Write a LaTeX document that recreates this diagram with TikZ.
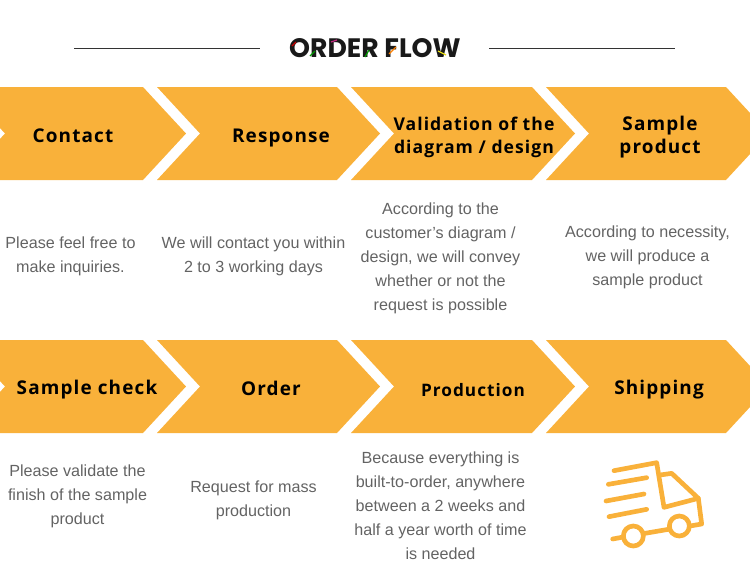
\documentclass[tikz,border=0pt]{standalone}
\usepackage{fontspec}
\setmainfont{Liberation Sans}
\newfontfamily\headfont[LetterSpace=6]{Open Sans}
\newfontfamily\titlefont{Poppins}
\usepackage{xcolor}
\usetikzlibrary{positioning}
\definecolor{flowgold}{HTML}{F9B13A}
\definecolor{bodygrey}{HTML}{636363}
\tikzset{
    flowtitle/.style={font=\headfont\bfseries\fontsize{14.2}{17.3}\selectfont, text=black, align=center},
    flowbody/.style={font=\fontsize{12.1}{18}\selectfont, text=bodygrey, align=center},
    truckline/.style={draw=flowgold, line width=3.5pt, line cap=round, line join=round}
}
\begin{document}
\begin{tikzpicture}[x=0.75pt,y=-0.75pt]
\useasboundingbox (0,0) rectangle (750,586);
\clip (0,0) rectangle (750,586);
% heading
\node[font=\titlefont\bfseries\fontsize{20}{22}\selectfont, text=black!90] (title) at (375,48) {ORDER FLOW};
\draw[black!80, line width=0.5pt] (74,48) -- (260,48);
\draw[black!80, line width=0.5pt] (489,48) -- (675,48);
% colour strokes on the heading
\draw[red!80!black, line width=0.9pt] (292,46) -- (296,42);
\draw[green!60!black, line width=0.9pt] (310,56) -- (315,51);
\draw[magenta!80!black, line width=0.9pt] (331,42) -- (337,40);
\draw[green!60!black, line width=0.9pt] (365,57) -- (369,50);
\draw[orange, line width=0.9pt] (389,54) -- (396,47);
\draw[yellow!90!black, line width=0.9pt] (438,51) -- (446,55);
% arrow bands
\foreach \y in {87,340} {
    \foreach \xa/\xb in {-38/143, 157/337, 351/532, 546/726} {
        \fill[flowgold] (\xa,\y) -- (\xb,\y) -- (\xb+43,\y+46.5) -- (\xb,\y+93)
            -- (\xa,\y+93) -- (\xa+43,\y+46.5) -- cycle;
    }
}
% first row
\node[flowtitle] (contact) at (73,136) {Contact};
\node[flowtitle] (response) at (281,138) {Response};
\node[flowtitle, font=\headfont\bfseries\fontsize{13.2}{17.3}\selectfont] (validation) at (474,137) {Validation of the\\diagram / design};
\node[flowtitle] (sample) at (660,137) {Sample\\product};
\node[flowbody] (inquiry) at (70.5,256) {Please feel free to\\make inquiries.};
\node[flowbody] (within) at (253.5,256) {We will contact you within\\2 to 3 working days};
\node[flowbody] (convey) at (440.5,258) {According to the\\customer\symbol{39}s diagram /\\design, we will convey\\whether or not the\\request is possible};
\node[flowbody] (necessity) at (647.5,257) {According to necessity,\\we will produce a\\sample product};
% second row
\node[flowtitle] (check) at (87,390) {Sample check};
\node[flowtitle] (order) at (271,388) {Order};
\node[flowtitle, font=\headfont\bfseries\fontsize{12.9}{16}\selectfont] (production) at (473,390) {Production};
\node[flowtitle] (shipping) at (659,390) {Shipping};
\node[flowbody] (finish) at (77.5,496) {Please validate the\\finish of the sample\\product};
\node[flowbody] (mass) at (253.5,500) {Request for mass\\production};
\node[flowbody] (built) at (440.5,505.5) {Because everything is\\built-to-order, anywhere\\between a 2 weeks and\\half a year worth of time\\is needed};
% truck icon
\begin{scope}[shift={(590,450)},x=0.25pt,y=-0.25pt]
\draw[truckline] (72,62) -- (200,38) -- (222,172) -- (325,145);
\draw[truckline] (210,75) -- (245,70) -- (325,145) -- (335,222) -- (300,228);
\draw[truckline] (165,250) -- (235,238);
\draw[truckline] (68,267) -- (95,262);
\foreach \xa/\ya/\xb/\yb in {55/103/170/83, 48/153/162/132, 57/200/170/178} {
    \draw[truckline] (\xa,\ya) -- (\xb,\yb);
}
\draw[truckline] (130,258) circle (30);
\draw[truckline] (268,228) circle (30);
\end{scope}
\end{tikzpicture}
\end{document}
